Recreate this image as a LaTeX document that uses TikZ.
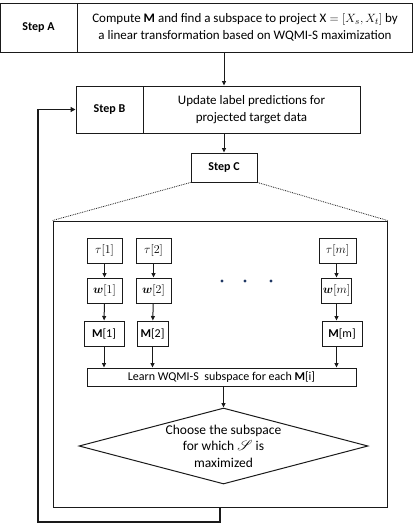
\documentclass[tikz,border=0pt]{standalone}
\usepackage{amsmath,amssymb,bm}
\usepackage{mathrsfs}
\usepackage{fontspec}
\setmainfont{Carlito}
\usetikzlibrary{arrows.meta,positioning,shapes.geometric}
\definecolor{FlowLine}{HTML}{1A1A1A}
\definecolor{DotBlue}{HTML}{1F3864}

\begin{document}
\begin{tikzpicture}[
    x=1pt,y=-1pt,
    font=\fontsize{13}{17}\selectfont,
    box/.style={draw=FlowLine,line width=1pt,inner sep=1pt,align=center},
    steplbl/.style={box,font=\fontsize{12}{16}\selectfont\bfseries},
    smallbox/.style={box,minimum height=25pt,font=\fontsize{12}{14}\selectfont},
    arr/.style={-{Triangle[length=4.5pt,width=4pt]},line width=1pt,draw=FlowLine},
    looparr/.style={-{Triangle[length=5pt,width=5pt]},line width=1.7pt,draw=FlowLine},
    dot/.style={circle,fill=DotBlue,inner sep=0pt,minimum size=3.2pt}
  ]
    \useasboundingbox (0,0) rectangle (413,525);
    % top steps
    \node[steplbl,minimum width=77pt,minimum height=49pt] (lblA) at (38.5,27.5) {Step A};
    \node[box,minimum width=335pt,minimum height=49pt] (txtA) at (245,27.5)
      {Compute \textbf{M} and find a subspace to project $\mathrm{X}=[X_s,X_t]$ by\\a linear transformation based on WQMI-S maximization};
    \node[steplbl,minimum width=67pt,minimum height=47pt] (lblB) at (109.5,109.5) {Step B};
    \node[box,minimum width=217pt,minimum height=47pt] (txtB) at (251.5,109.5)
      {Update label predictions for\\projected target data};
    \node[steplbl,minimum width=66pt,minimum height=29pt] (stepC) at (224,167.5) {Step C};
    \node[box,minimum width=334pt,minimum height=286pt] (big) at (220,364) {};
    % inner columns
    \node[smallbox,minimum width=35pt] (tau1) at (104.5,250.5) {$\tau[1]$};
    \node[smallbox,minimum width=35pt] (tau2) at (153.5,250.5) {$\tau[2]$};
    \node[smallbox,minimum width=37pt] (taum) at (337.5,250.5) {$\tau[m]$};
    \node[smallbox,minimum width=35pt] (w1) at (104.5,290.5) {$\bm{w}[1]$};
    \node[smallbox,minimum width=35pt] (w2) at (153.5,290.5) {$\bm{w}[2]$};
    \node[smallbox,minimum width=29pt] (wm) at (336.5,290.5) {$\bm{w}[m]$};
    \node[smallbox,minimum width=40pt] (M1) at (104,333.5) {\textbf{M}[1]};
    \node[smallbox,minimum width=31pt] (M2) at (152.5,333.5) {\textbf{M}[2]};
    \node[smallbox,minimum width=40pt] (Mm) at (342,333.5) {\textbf{M}[m]};
    \node[dot] (dot1) at (222,281) {};
    \node[dot] (dot2) at (245,281) {};
    \node[dot] (dot3) at (271,281) {};
    \node[smallbox,minimum width=269pt,minimum height=18pt] (learn) at (221.5,377)
      {Learn WQMI-S\ \ subspace for each \textbf{M}[i]};
    \node[box,diamond,aspect=3.8,inner sep=0pt,minimum width=289pt,minimum height=76pt,
      font=\fontsize{13.5}{16.5}\selectfont] (choose) at (223.5,446)
      {Choose the subspace\\for which $\mathscr{S}$ is\\maximized};
    % connectors
    \draw[arr] (stepC |- txtA.south) -- (stepC |- txtB.north);
    \draw[arr] (stepC |- txtB.south) -- (stepC.north);
    \draw[densely dotted,line width=0.8pt,draw=FlowLine] (stepC.south west) -- (big.north west);
    \draw[densely dotted,line width=0.8pt,draw=FlowLine] (stepC.south east) -- (big.north east);
    \draw[arr] (tau1) -- (w1);
    \draw[arr] (tau2) -- (w2);
    \draw[arr] (taum.south -| wm) -- (wm);
    \draw[arr] (w1) -- (M1);
    \draw[arr] (w2) -- (M2);
    \draw[arr] (wm.south) -- (wm.south |- Mm.north);
    \draw[arr] (M1) -- (M1 |- learn.north);
    \draw[arr] (M2) -- (M2 |- learn.north);
    \draw[arr] (Mm.south -| wm) -- (wm |- learn.north);
    \draw[arr] (learn.south -| choose.north) -- (choose.north);
    \coordinate (loopcorner) at (38,522);
    \draw[looparr] (big.south) |- (loopcorner) |- (lblB.west);
  \end{tikzpicture}
\end{document}
